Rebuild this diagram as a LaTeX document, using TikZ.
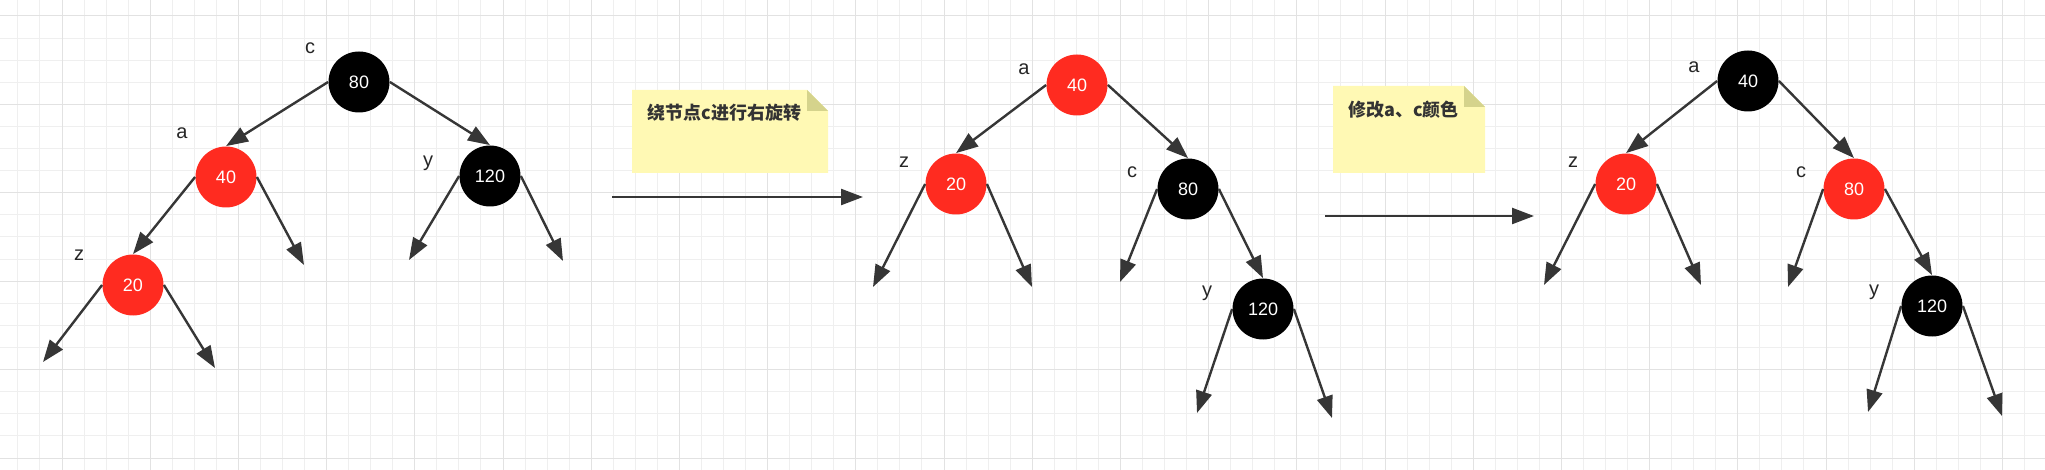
\documentclass[tikz,border=0pt]{standalone}
\usepackage{fontspec}
\setmainfont{Liberation Sans}
\newfontfamily\cjk{Noto Sans CJK SC}
\usetikzlibrary{arrows.meta}
\definecolor{rbred}{HTML}{FF2B20}
\definecolor{edgegray}{HTML}{363636}
\definecolor{gridminor}{HTML}{EFEFEF}
\definecolor{gridmajor}{HTML}{E2E2E2}
\definecolor{notefill}{HTML}{FFF9B4}
\definecolor{notefold}{HTML}{D5D38C}
\definecolor{notetext}{HTML}{333333}

\begin{document}
\begin{tikzpicture}[x=0.5pt, y=-0.5pt,
    rbnode/.style={circle, minimum size=30.5pt, inner sep=0pt, text=white, font=\fontsize{9}{10}\selectfont},
    rednode/.style={rbnode, fill=rbred},
    blacknode/.style={rbnode, fill=black},
    lbl/.style={font=\fontsize{10}{11}\selectfont, text=black!85, inner sep=0pt},
    edge/.style={-{Triangle[length=11pt, width=8pt]}, line width=1.2pt, color=edgegray},
    notetxt/.style={anchor=west, inner sep=0pt, font=\cjk\bfseries\fontsize{9}{11}\selectfont, text=notetext}]
    \useasboundingbox (0,0) rectangle (2045,470);
    
    % grid
    \foreach \k in {-2,...,89}
        \draw[gridminor, line width=0.5pt] ({62+22.05*\k},0) -- ({62+22.05*\k},470);
    \foreach \k in {0,...,20}
        \draw[gridminor, line width=0.5pt] (0,{16+22.1*\k}) -- (2045,{16+22.1*\k});
    \foreach \k in {0,...,22}
        \draw[gridmajor, line width=0.5pt] ({62+88.2*\k},0) -- ({62+88.2*\k},470);
    \foreach \k in {0,...,5}
        \draw[gridmajor, line width=0.5pt] (0,{16+88.4*\k}) -- (2045,{16+88.4*\k});
    
    % tree before rotation
    \node[blacknode] (c1) at (359,82) {80};
    \node[rednode] (a1) at (226,177) {40};
    \node[blacknode] (y1) at (490,176) {120};
    \node[rednode] (z1) at (133,285) {20};
    \node[lbl] (c1l) at (310,48) {c};
    \node[lbl] (a1l) at (182,133) {a};
    \node[lbl] (y1l) at (428,163) {y};
    \node[lbl] (z1l) at (79,255) {z};
    \coordinate (a1r) at (304,265);
    \coordinate (y1a) at (409,260);
    \coordinate (y1b) at (563,261);
    \coordinate (z1a) at (43,362);
    \coordinate (z1b) at (215,368);
    \draw[edge] (c1.west) -- (a1.north);
    \draw[edge] (c1.east) -- (y1.north);
    \draw[edge] (a1.west) -- (z1.north);
    \draw[edge] (a1.east) -- (a1r);
    \draw[edge] (y1.west) -- (y1a);
    \draw[edge] (y1.east) -- (y1b);
    \draw[edge] (z1.west) -- (z1a);
    \draw[edge] (z1.east) -- (z1b);
    
    % first step
    \fill[notefill] (632,90) -- (807,90) -- (828,111) -- (828,173) -- (632,173) -- cycle;
    \fill[notefold] (807,90) -- (807,111) -- (828,111) -- cycle;
    \node[notetxt] (note1) at (647,113) {绕节点c进行右旋转};
    \coordinate (step1s) at (612,197);
    \coordinate (step1e) at (863,197);
    \draw[edge] (step1s) -- (step1e);
    
    % tree after rotation
    \node[rednode] (a2) at (1077,85) {40};
    \node[rednode] (z2) at (956,184) {20};
    \node[blacknode] (c2) at (1188,189) {80};
    \node[blacknode] (y2) at (1263,309) {120};
    \node[lbl] (a2l) at (1024,69) {a};
    \node[lbl] (z2l) at (904,162) {z};
    \node[lbl] (c2l) at (1132,172) {c};
    \node[lbl] (y2l) at (1207,293) {y};
    \coordinate (z2a) at (873,287);
    \coordinate (z2b) at (1032,287);
    \coordinate (c2a) at (1120,282);
    \coordinate (y2a) at (1197,413);
    \coordinate (y2b) at (1332,418);
    \draw[edge] (a2.west) -- (z2.north);
    \draw[edge] (a2.east) -- (c2.north);
    \draw[edge] (z2.west) -- (z2a);
    \draw[edge] (z2.east) -- (z2b);
    \draw[edge] (c2.west) -- (c2a);
    \draw[edge] (c2.east) -- (y2.north);
    \draw[edge] (y2.west) -- (y2a);
    \draw[edge] (y2.east) -- (y2b);
    
    % second step
    \fill[notefill] (1333,86) -- (1464,86) -- (1485,107) -- (1485,173) -- (1333,173) -- cycle;
    \fill[notefold] (1464,86) -- (1464,107) -- (1485,107) -- cycle;
    \node[notetxt] (note2) at (1348,110) {修改a、c颜色};
    \coordinate (step2s) at (1325,216);
    \coordinate (step2e) at (1534,216);
    \draw[edge] (step2s) -- (step2e);
    
    % tree after recolouring
    \node[blacknode] (a3) at (1748,81) {40};
    \node[rednode] (z3) at (1626,184) {20};
    \node[rednode] (c3) at (1854,189) {80};
    \node[blacknode] (y3) at (1932,306) {120};
    \node[lbl] (a3l) at (1694,67) {a};
    \node[lbl] (z3l) at (1573,162) {z};
    \node[lbl] (c3l) at (1801,172) {c};
    \node[lbl] (y3l) at (1874,292) {y};
    \coordinate (z3a) at (1544,285);
    \coordinate (z3b) at (1701,285);
    \coordinate (c3a) at (1788,287);
    \coordinate (y3a) at (1868,412);
    \coordinate (y3b) at (2002,416);
    \draw[edge] (a3.west) -- (z3.north);
    \draw[edge] (a3.east) -- (c3.north);
    \draw[edge] (z3.west) -- (z3a);
    \draw[edge] (z3.east) -- (z3b);
    \draw[edge] (c3.west) -- (c3a);
    \draw[edge] (c3.east) -- (y3.north);
    \draw[edge] (y3.west) -- (y3a);
    \draw[edge] (y3.east) -- (y3b);
\end{tikzpicture}
\end{document}
